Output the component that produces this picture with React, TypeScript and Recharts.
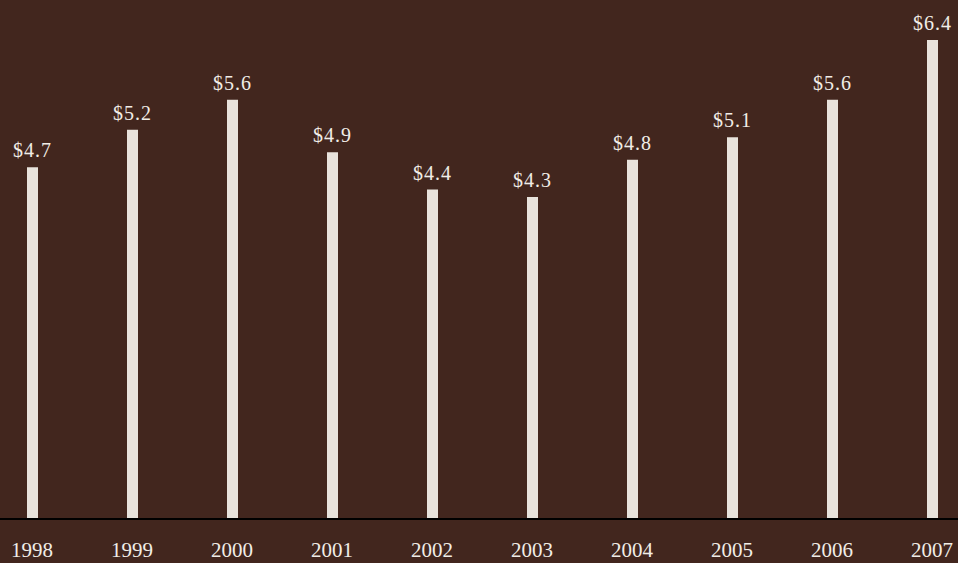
import React from "react";
import { BarChart, Bar, XAxis, YAxis, LabelList } from "recharts";

const years = [1998, 1999, 2000, 2001, 2002, 2003, 2004, 2005, 2006, 2007];
const values = [4.7, 5.2, 5.6, 4.9, 4.4, 4.3, 4.8, 5.1, 5.6, 6.4];
const valueLabels = ["$4.7", "$5.2", "$5.6", "$4.9", "$4.4", "$4.3", "$4.8", "$5.1", "$5.6", "$6.4"];

const data = years.map((y, i) => ({ year: y, value: values[i], label: valueLabels[i] }));

const FONT = "'Liberation Serif', 'DejaVu Serif', serif";
const BG = "#42261e";
const BAR = "#e8e3dc";
const TEXT = "#f1ede7";

const YearTick = (props: any) => {
  const { x, y, payload } = props;
  return (
    <text x={x} y={y + 38} textAnchor="middle" fill={TEXT} fontFamily={FONT} fontSize={21}>
      {payload.value}
    </text>
  );
};

const ValueLabel = (props: any) => {
  const { x, y, width, index } = props;
  return (
    <text
      x={x + width / 2}
      y={y - 10}
      textAnchor="middle"
      fill={TEXT}
      fontFamily={FONT}
      fontSize={20}
      letterSpacing={1}
    >
      {valueLabels[index]}
    </text>
  );
};

export default function App() {
  return (
    <div style={{ position: "fixed", left: 0, top: 0, width: 958, height: 563, background: BG }}>
      <BarChart
        width={958}
        height={563}
        data={data}
        margin={{ top: 0, right: 0, bottom: 14, left: 0 }}
      >
        <XAxis
          dataKey="year"
          type="number"
          domain={[1997.68, 2007.26]}
          ticks={years}
          allowDecimals={false}
          height={30}
          tickLine={false}
          tickSize={0}
          tickMargin={0}
          axisLine={{ stroke: "#000", strokeWidth: 2 }}
          tick={<YearTick />}
          interval={0}
        />
        <YAxis hide domain={[0, 6.933]} allowDataOverflow />
        <Bar dataKey="value" fill={BAR} barSize={11} isAnimationActive={false}>
          <LabelList dataKey="label" content={<ValueLabel />} />
        </Bar>
      </BarChart>
    </div>
  );
}
